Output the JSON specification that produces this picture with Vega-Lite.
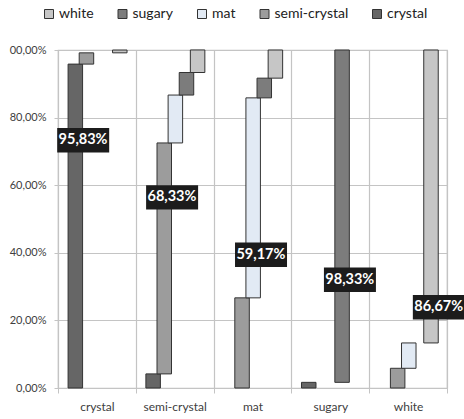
{
  "$schema": "https://vega.github.io/schema/vega-lite/v6.json",
  "width": 389,
  "height": 338,
  "autosize": "none",
  "padding": {"left": 58, "top": 50, "right": 17, "bottom": 31},
  "background": "white",
  "config": {
    "font": "Lato",
    "view": {"stroke": "#c4c4c4", "strokeWidth": 1.2},
    "axis": {"gridColor": "#c4c4c4", "gridWidth": 1.2, "domainColor": "#c4c4c4", "tickColor": "#c4c4c4", "labelColor": "#404040", "title": null}
  },
  "datasets": {
    "shares": [
      {"cat": "crystal", "series": "crystal", "i": 0, "v": 95.83},
      {"cat": "crystal", "series": "semi-crystal", "i": 1, "v": 3.33},
      {"cat": "crystal", "series": "white", "i": 4, "v": 0.83},
      {"cat": "semi-crystal", "series": "crystal", "i": 0, "v": 4.17},
      {"cat": "semi-crystal", "series": "semi-crystal", "i": 1, "v": 68.33},
      {"cat": "semi-crystal", "series": "mat", "i": 2, "v": 14.17},
      {"cat": "semi-crystal", "series": "sugary", "i": 3, "v": 6.67},
      {"cat": "semi-crystal", "series": "white", "i": 4, "v": 6.67},
      {"cat": "mat", "series": "semi-crystal", "i": 1, "v": 26.67},
      {"cat": "mat", "series": "mat", "i": 2, "v": 59.17},
      {"cat": "mat", "series": "sugary", "i": 3, "v": 5.83},
      {"cat": "mat", "series": "white", "i": 4, "v": 8.33},
      {"cat": "sugary", "series": "crystal", "i": 0, "v": 1.67},
      {"cat": "sugary", "series": "sugary", "i": 3, "v": 98.33},
      {"cat": "white", "series": "semi-crystal", "i": 1, "v": 5.83},
      {"cat": "white", "series": "mat", "i": 2, "v": 7.5},
      {"cat": "white", "series": "white", "i": 4, "v": 86.67}
    ],
    "labels": [
      {"cat": "crystal", "series": "crystal", "pos": 73.3, "text": "95,83%"},
      {"cat": "semi-crystal", "series": "semi-crystal", "pos": 56.4, "text": "68,33%"},
      {"cat": "mat", "series": "mat", "pos": 39.4, "text": "59,17%"},
      {"cat": "sugary", "series": "sugary", "pos": 32.0, "text": "98,33%"},
      {"cat": "white", "series": "white", "pos": 23.9, "text": "86,67%"}
    ]
  },
  "encoding": {
    "x": {
      "field": "cat", "type": "nominal",
      "sort": ["crystal", "semi-crystal", "mat", "sugary", "white"],
      "scale": {"domain": ["crystal", "semi-crystal", "mat", "sugary", "white"], "paddingInner": 0, "paddingOuter": 0},
      "axis": {"labelAngle": 0, "labelFontSize": 12, "grid": true, "tickBand": "extent", "tickSize": 5, "labelPadding": 8}
    },
    "xOffset": {
      "field": "series", "type": "nominal",
      "scale": {"domain": ["crystal", "semi-crystal", "mat", "sugary", "white"], "paddingInner": 0, "paddingOuter": 1.39, "align": 0.53}
    }
  },
  "layer": [
    {
      "data": {"name": "shares"},
      "transform": [{"stack": "v", "groupby": ["cat"], "sort": [{"field": "i"}], "as": ["v0", "v1"]}],
      "mark": {"type": "bar", "width": 14.5, "stroke": "#333333", "strokeWidth": 1},
      "encoding": {
        "y": {
          "field": "v1", "type": "quantitative",
          "scale": {"domain": [0, 100]},
          "axis": {"values": [0, 20, 40, 60, 80, 100], "tickSize": 4, "labelPadding": 8, "labelFontSize": 11,
                   "labelExpr": "datum.value == 100 ? '00,00%' : replace(format(datum.value, '.2f'), '.', ',') + '%'"}
        },
        "y2": {"field": "v0"},
        "color": {
          "field": "series", "type": "nominal",
          "scale": {"domain": ["crystal", "semi-crystal", "mat", "sugary", "white"],
                    "range": ["#666666", "#9c9c9c", "#e2eaf4", "#7c7c7c", "#c6c6c6"]},
          "legend": {
            "orient": "none", "legendX": -16, "legendY": -43, "direction": "horizontal",
            "values": ["white", "sugary", "mat", "semi-crystal", "crystal"],
            "title": null, "symbolType": "square", "symbolSize": 81,
            "symbolStrokeColor": "#333333", "symbolStrokeWidth": 1, "symbolOpacity": 1,
            "labelFontSize": 14, "labelColor": "#222222", "columnPadding": 21.5, "labelOffset": 3
          }
        }
      }
    },
    {
      "data": {"name": "labels"},
      "mark": {"type": "point", "shape": "M-0.698,-0.47H1.302V0.47H-0.698Z", "size": 2704, "filled": true, "color": "#1c1c1c", "opacity": 1},
      "encoding": {"y": {"field": "pos", "type": "quantitative"}}
    },
    {
      "data": {"name": "labels"},
      "mark": {"type": "text", "dx": 7.7, "color": "white", "fontWeight": "bold", "fontSize": 14.5, "align": "center", "baseline": "middle"},
      "encoding": {"y": {"field": "pos", "type": "quantitative"}, "text": {"field": "text"}}
    }
  ]
}
